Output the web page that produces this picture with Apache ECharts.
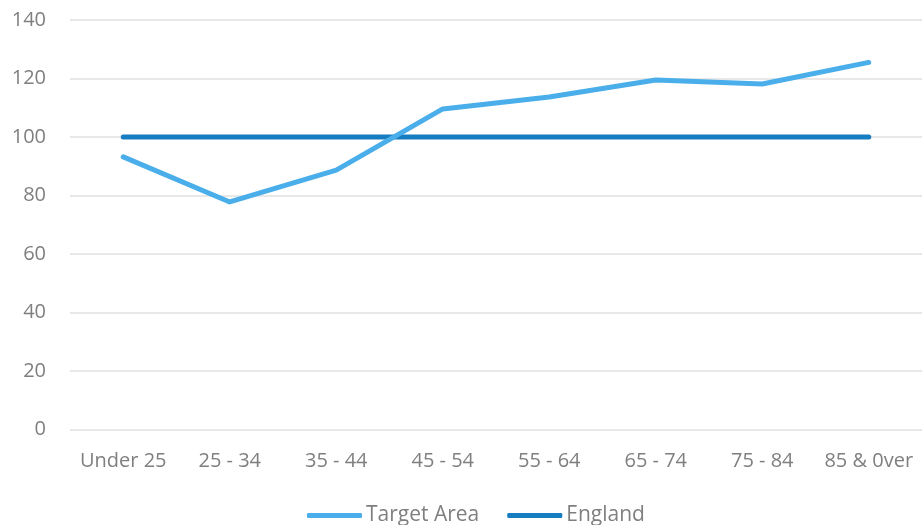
<!DOCTYPE html>
<html>
<head>
<meta charset="utf-8">
<script src="https://cdn.jsdelivr.net/npm/echarts@6/dist/echarts.min.js"></script>
<style>
  html, body { margin: 0; padding: 0; background: #fff; }
  #chart { width: 922px; height: 525px; }
</style>
</head>
<body>
<div id="chart"></div>
<script>
// Age bands along the x axis
const ageBands = ['Under 25', '25 - 34', '35 - 44', '45 - 54', '55 - 64', '65 - 74', '75 - 84', '85 & 0ver'];
// Index values (England = 100)
const targetArea = [93.2, 77.8, 88.7, 109.6, 113.7, 119.5, 118.1, 125.5];
const england = [100, 100, 100, 100, 100, 100, 100, 100];
// Y axis ticks
const yMin = 0, yMax = 140, yStep = 20;

const font = '"Open Sans", "Liberation Sans", sans-serif';
const chart = echarts.init(document.getElementById('chart'), null, { renderer: 'canvas' });

chart.setOption({
  animation: false,
  grid: { left: 70, right: 0, top: 20, bottom: 95.5, containLabel: false },
  xAxis: {
    type: 'category',
    data: ageBands,
    boundaryGap: true,
    axisLine: { show: false },
    axisTick: { show: false },
    axisLabel: { color: '#7f7f7f', fontSize: 20, fontFamily: font, margin: 22, interval: 0 }
  },
  yAxis: {
    type: 'value',
    min: yMin, max: yMax, interval: yStep,
    axisLine: { show: false },
    axisTick: { show: false },
    axisLabel: { color: '#7f7f7f', fontSize: 20, fontFamily: font, margin: 24 },
    splitLine: { lineStyle: { color: '#e0e0e0', width: 1.5 } }
  },
  legend: {
    top: 505,
    left: 307,
    itemWidth: 55,
    itemHeight: 5,
    itemGap: 28,
    padding: 0,
    textStyle: { color: '#7f7f7f', fontSize: 21, fontFamily: font, padding: [0, 0, 0, -1] },
    data: [
      { name: 'Target Area', icon: 'roundRect' },
      { name: 'England', icon: 'roundRect' }
    ]
  },
  series: [
    {
      name: 'Target Area',
      type: 'line',
      data: targetArea,
      symbol: 'none',
      color: '#4aaeea',
      lineStyle: { width: 5, color: '#4aaeea', cap: 'round', join: 'round' },
      z: 3
    },
    {
      name: 'England',
      type: 'line',
      data: england,
      symbol: 'none',
      color: '#167dc0',
      lineStyle: { width: 5, color: '#167dc0', cap: 'round', join: 'round' },
      z: 2
    }
  ]
});
</script>
</body>
</html>
